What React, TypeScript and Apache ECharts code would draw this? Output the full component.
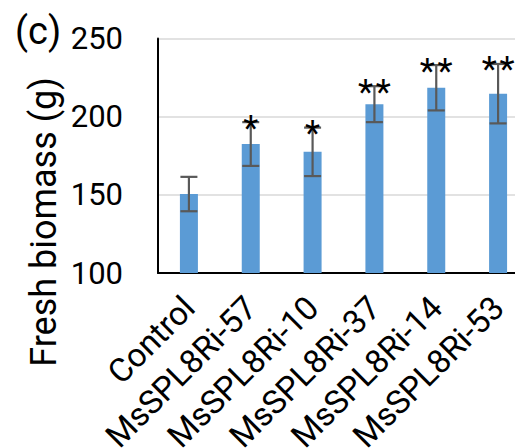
import React, { useEffect, useRef } from "react";
import * as echarts from "echarts";

const categories = ["Control", "MsSPL8Ri-57", "MsSPL8Ri-10", "MsSPL8Ri-37", "MsSPL8Ri-14", "MsSPL8Ri-53"];
const means = [150.5, 182.5, 177.5, 208, 218.5, 214.7];
const errors = [11, 14, 15.5, 11.5, 14.5, 19];
const stars = [0, 1, 1, 2, 2, 2];
const yTicks = { min: 100, max: 250, interval: 50 };

const FONT = "Roboto";

export default function App() {
  const ref = useRef<HTMLDivElement>(null);
  useEffect(() => {
    if (!ref.current) return;
    const chart = echarts.init(ref.current, null, { renderer: "svg" });
    chart.setOption({
      animation: false,
      grid: { left: 158, top: 38.5, bottom: 175, width: 371, containLabel: false, outerBoundsMode: "none" },
      xAxis: {
        type: "category",
        data: categories,
        axisLine: { show: true, lineStyle: { color: "#000", width: 2 } },
        axisTick: { show: false },
        axisLabel: { rotate: 45, fontSize: 33, fontFamily: FONT, color: "#000", margin: 29, interval: 0 },
      },
      yAxis: {
        type: "value",
        min: yTicks.min,
        max: yTicks.max,
        interval: yTicks.interval,
        axisLine: { show: true, lineStyle: { color: "#000", width: 2 } },
        axisTick: { show: false },
        splitLine: { show: true, lineStyle: { color: "#D9D9D9", width: 1.5 } },
        axisLabel: { fontSize: 31, fontFamily: FONT, color: "#000", margin: 35 },
      },
      graphic: [
        { type: "text", left: 15, top: 12, style: { text: "(c)", fontSize: 38, fontFamily: FONT, fill: "#000" } },
        {
          type: "text",
          x: 44,
          y: 222,
          rotation: Math.PI / 2,
          style: { text: "Fresh biomass (g)", fontSize: 36, fontFamily: FONT, fill: "#000", align: "center", verticalAlign: "middle" },
        },
      ],
      series: [
        {
          type: "bar",
          data: means,
          barWidth: 18,
          itemStyle: { color: "#5B9BD5" },
          z: 2,
        },
        {
          type: "custom",
          z: 3,
          data: means.map((m, i) => [i, m, errors[i]]),
          renderItem: (params: any, api: any) => {
            const i = api.value(0);
            const m = api.value(1);
            const e = api.value(2);
            const top = api.coord([i, m + e]);
            const bot = api.coord([i, m - e]);
            const cap = 8.5;
            const st = { stroke: "#595959", lineWidth: 2.2 };
            const children: any[] = [
              { type: "line", shape: { x1: top[0], y1: top[1], x2: bot[0], y2: bot[1] }, style: st },
              { type: "line", shape: { x1: top[0] - cap, y1: top[1], x2: top[0] + cap, y2: top[1] }, style: st },
              { type: "line", shape: { x1: bot[0] - cap, y1: bot[1], x2: bot[0] + cap, y2: bot[1] }, style: st },
            ];
            const n = stars[params.dataIndex];
            const gap = 17.7;
            for (let k = 0; k < n; k++) {
              const cx = top[0] + (k - (n - 1) / 2) * gap;
              children.push({
                type: "text",
                x: cx,
                y: top[1] + 6,
                style: { text: "*", fontSize: 35, fontFamily: FONT, fill: "#000", align: "center", verticalAlign: "middle" },
              });
            }
            return { type: "group", children };
          },
        },
      ],
    });
    return () => chart.dispose();
  }, []);
  return <div ref={ref} style={{ position: "absolute", left: 0, top: 0, width: 515, height: 448, overflow: "hidden" }} />;
}
